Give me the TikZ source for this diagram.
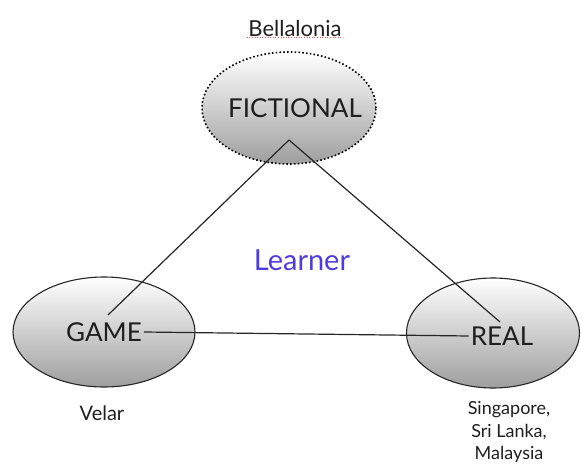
\documentclass[tikz,border=0pt]{standalone}
\usepackage{fontspec}
\setmainfont{Lato}
\usetikzlibrary{shapes.geometric}
\begin{document}
\begin{tikzpicture}[x=1pt,y=-1pt,
  blob/.style={ellipse, draw=black!85, line width=1.1pt, top color=white, bottom color=black!38},
  lab/.style={font=\fontsize{26}{28}\selectfont, text=black!88, inner sep=2pt},
  small/.style={text=black!88},
  link/.style={draw=black!85, line width=1.2pt}]
\useasboundingbox (0,0) rectangle (581,468);
\node[blob, draw=black, line width=1.6pt, dash pattern=on 1.6pt off 2.2pt, minimum width=174pt, minimum height=112pt] (fe) at (289,108) {};
\node[blob, minimum width=182pt, minimum height=110pt] (ge) at (104,332) {};
\node[blob, minimum width=173pt, minimum height=110pt] (re) at (493,333) {};
\node[lab] (fic) at (295,108) {FICTIONAL};
\node[lab] (game) at (104,332) {GAME};
\node[lab] (real) at (502,336) {REAL};
\node[small, font=\fontsize{22}{24}\selectfont] (bel) at (295,28) {Bellalonia};
\draw[red!70, dotted, line width=0.6pt] ([xshift=2pt,yshift=2pt]bel.south west) -- ([xshift=-2pt,yshift=2pt]bel.south east);
\node[small, font=\fontsize{20}{22}\selectfont] (velar) at (102,413) {Velar};
\node[small, align=center, font=\fontsize{18}{22.5}\selectfont] (places) at (509,432) {Singapore,\\Sri Lanka,\\Malaysia};
\node[font=\fontsize{29}{31}\selectfont, text={rgb,255:red,80;green,60;blue,220}] (learner) at (302,260) {Learner};
\coordinate (apex) at (289,140);
\coordinate (gtop) at (108,315);
\coordinate (rtop) at (500,322);
\draw[link] (apex) -- (gtop);
\draw[link] (apex) -- (rtop);
\draw[link] (game.east) -- (real.west);
\end{tikzpicture}
\end{document}
